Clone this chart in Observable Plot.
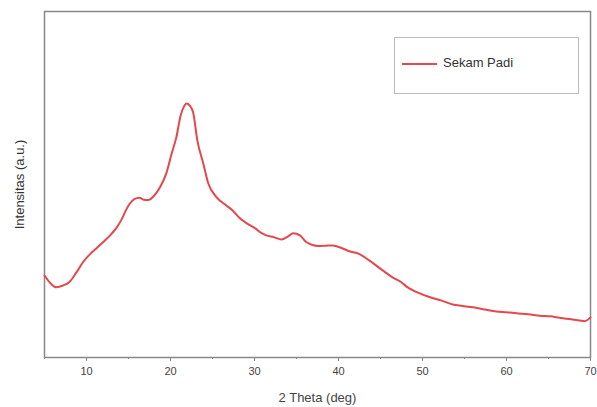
<!DOCTYPE html>
<html>
<head>
<meta charset="utf-8">
<script src="https://cdn.jsdelivr.net/npm/d3@7"></script>
<script src="https://cdn.jsdelivr.net/npm/@observablehq/plot@0.6"></script>
<style>
  html, body { margin: 0; padding: 0; background: #fff; }
  #wrap { position: relative; width: 597px; height: 407px; font-family: "Liberation Sans", Arial, sans-serif; }
  #legend { position: absolute; left: 394px; top: 37px; width: 185px; height: 57px; border: 1.5px solid #bbb; background: #fff; box-sizing: border-box; }
  #legend .sw { position: absolute; left: 7px; top: 25px; width: 35px; height: 0; border-top: 2px solid #e5474d; }
  #legend .lb { position: absolute; left: 48px; top: 17px; font-size: 13px; color: #333; }
  #chart svg g[aria-label="x-axis label"] text { font-size: 13px; }
  #chart svg g[aria-label="y-axis label"] text { font-size: 13px; }
</style>
</head>
<body>
<div id="wrap">
  <div id="chart"></div>
  <div id="legend"><div class="sw"></div><div class="lb" id="legendLabel"></div></div>
</div>
<script>
const seriesName = "Sekam Padi";
const twoTheta = [5, 5.7, 6.4, 7.2, 8.0, 8.8, 9.6, 10.4, 11.2, 12.1, 13.0, 13.6, 14.2, 14.7, 15.1, 15.7, 16.3, 16.8, 17.3, 18.1, 18.8, 19.5, 20.1, 20.7, 21.2, 21.6, 21.9, 22.3, 22.7, 23.2, 23.9, 24.5, 25.5, 26.5, 27.4, 28.2, 29.0, 30.1, 30.8, 31.4, 32.3, 33.2, 34.0, 34.6, 35.4, 36.2, 37.6, 38.5, 39.3, 40.5, 41.3, 42.3, 43.7, 45.3, 46.7, 47.4, 48.1, 49.4, 50.9, 52.2, 53.6, 54.8, 56.0, 57.4, 58.8, 60.0, 61.2, 62.6, 64.0, 65.2, 66.3, 67.5, 68.7, 69.3, 70];
const intensity = [23.7, 21.5, 20.3, 20.8, 21.9, 24.6, 27.6, 29.8, 31.6, 33.6, 35.8, 37.6, 40.0, 42.6, 44.3, 45.8, 46.2, 45.6, 45.5, 46.9, 49.4, 53.2, 58.6, 63.7, 69.9, 72.5, 73.4, 72.8, 70.8, 62.7, 56.1, 50.3, 46.3, 44.2, 42.5, 40.4, 38.9, 37.3, 36.0, 35.3, 34.8, 34.1, 35.0, 35.9, 35.3, 33.3, 32.2, 32.3, 32.4, 31.5, 30.7, 30.1, 28.0, 25.1, 22.8, 21.9, 20.5, 18.8, 17.4, 16.5, 15.3, 14.9, 14.5, 13.9, 13.3, 13.1, 12.8, 12.5, 12.1, 11.9, 11.5, 11.1, 10.7, 10.5, 11.6];
const majorTicks = [10, 20, 30, 40, 50, 60, 70];
const minorTicks = [5, 15, 25, 35, 45, 55, 65];
const xLabel = "2 Theta (deg)";
const yLabel = "Intensitas (a.u.)";

const data = twoTheta.map((x, i) => ({x, y: intensity[i]}));

const chart = Plot.plot({
  width: 597,
  height: 407,
  marginLeft: 44,
  marginRight: 7,
  marginTop: 11,
  marginBottom: 50,
  style: {fontFamily: '"Liberation Sans", Arial, sans-serif', background: "#fff"},
  x: {domain: [5, 70]},
  y: {domain: [0, 100]},
  marks: [
    Plot.frame({stroke: "#888", strokeWidth: 1.5}),
    Plot.axisX({ticks: minorTicks, tickSize: 2, text: null, label: null, stroke: "#888"}),
    Plot.axisX({ticks: majorTicks, tickSize: 4, tickPadding: 6, fontSize: 11, fill: "#444", stroke: "#888", label: xLabel, labelAnchor: "center", labelArrow: "none", labelOffset: 44}),
    Plot.axisY({ticks: [], label: yLabel, labelAnchor: "center", labelArrow: "none", labelOffset: 30, fill: "#333"}),
    Plot.line(data, {x: "x", y: "y", stroke: "#e5474d", strokeWidth: 2, curve: "monotone-x"})
  ]
});
document.getElementById("chart").appendChild(chart);
document.getElementById("legendLabel").textContent = seriesName;
</script>
</body>
</html>
